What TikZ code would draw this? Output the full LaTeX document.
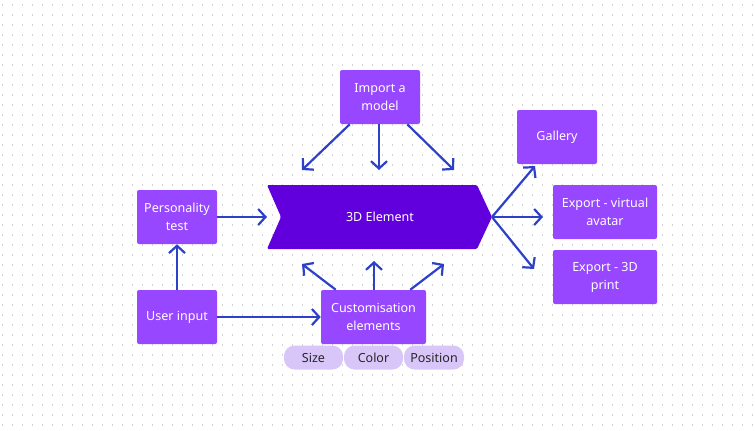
\documentclass[tikz,border=0pt]{standalone}
\usepackage{fontspec}
\setmainfont{Noto Sans}
\usetikzlibrary{arrows.meta,calc}
\definecolor{boxc}{HTML}{9747FF}
\definecolor{chev}{HTML}{6100DC}
\definecolor{arr}{HTML}{2D40C8}
\definecolor{pill}{HTML}{D9C6F8}
\definecolor{dotc}{HTML}{D4D4D4}
\tikzset{
  box/.style={fill=boxc, rounded corners=1.5pt, text=white, align=center, font=\fontsize{9.4}{13.5}\selectfont, inner sep=0pt, minimum height=40.5pt},
  pillbox/.style={fill=pill, rounded corners=8pt, text=black!85, font=\fontsize{9.4}{12}\selectfont, inner sep=0pt, minimum height=18pt},
  conn/.style={draw=arr, line width=1.65pt, -{Straight Barb[length=5.5pt,width=12pt,line width=1.65pt]}},
}
\begin{document}
\begin{tikzpicture}[x=0.75pt,y=-0.75pt]
\useasboundingbox (0,0) rectangle (755,430);
\fill[white] (0,0) rectangle (755,430);
% dot grid
\foreach \i in {0,...,75}{
  \foreach \j in {0,...,42}{
    \fill[dotc] ({2+10*\i-0.5},{5+10*\j-1}) rectangle ({2+10*\i+0.5},{5+10*\j+1});
  }
}
% chevron
\coordinate (c1) at (267,185);
\coordinate (c2) at (477,185);
\coordinate (tip) at (492,217);
\coordinate (c4) at (477,249);
\coordinate (c5) at (267,249);
\coordinate (notch) at (281,217);
\fill[chev, rounded corners=1pt] (c1) -- (c2) -- (tip) -- (c4) -- (c5) -- (notch) -- cycle;
\node[text=white, font=\fontsize{9.4}{12}\selectfont] (el) at (380,217) {3D Element};

% boxes
\node[box, minimum width=60pt] (imp) at (380,97) {Import a\\model};
\node[box, minimum width=60pt] (pers) at (177,217) {Personality\\test};
\node[box, minimum width=60pt] (user) at (177,317) {User input};
\node[box, minimum width=78.75pt] (cust) at (373.5,317) {Customisation\\elements};
\node[box, minimum width=60pt] (gal) at (557,137) {Gallery};
\node[box, minimum width=78pt] (exv) at (605,212) {Export - virtual\\avatar};
\node[box, minimum width=78pt] (ex3) at (605,277) {Export - 3D\\print};

% pills
\node[pillbox, minimum width=44.25pt] (size) at (313.5,357.5) {Size};
\node[pillbox, minimum width=44.25pt] (color) at (373.5,357.5) {Color};
\node[pillbox, minimum width=45pt] (posn) at (434,357.5) {Position};

% arrow end coordinates
\coordinate (a1) at (302,170);
\coordinate (a2) at (379,170);
\coordinate (a3) at (454,170);
\coordinate (b1) at (302,264);
\coordinate (b2) at (374,261);
\coordinate (b3) at (444,264);
\coordinate (g1) at (535,166);
\coordinate (g2) at (543,217);
\coordinate (g3) at (534,269);

% connectors
\draw[conn] ($(imp.south west)+(10,0)$) -- (a1);
\draw[conn] (imp.south -| a2) -- (a2);
\draw[conn] ($(imp.south east)+(-13,0)$) -- (a3);
\draw[conn] ($(cust.north west)+(15,0)$) -- (b1);
\draw[conn] (cust.north -| b2) -- (b2);
\draw[conn] ($(cust.north east)+(-16,0)$) -- (b3);
\draw[conn] (user.north) -- (pers.south);
\draw[conn] (pers.east) -- (c5 |- pers.east);
\draw[conn] (user.east) -- (cust.west);
\draw[conn] (tip) -- (g1);
\draw[conn] (tip) -- (g2);
\draw[conn] (tip) -- (g3);
\end{tikzpicture}
\end{document}
